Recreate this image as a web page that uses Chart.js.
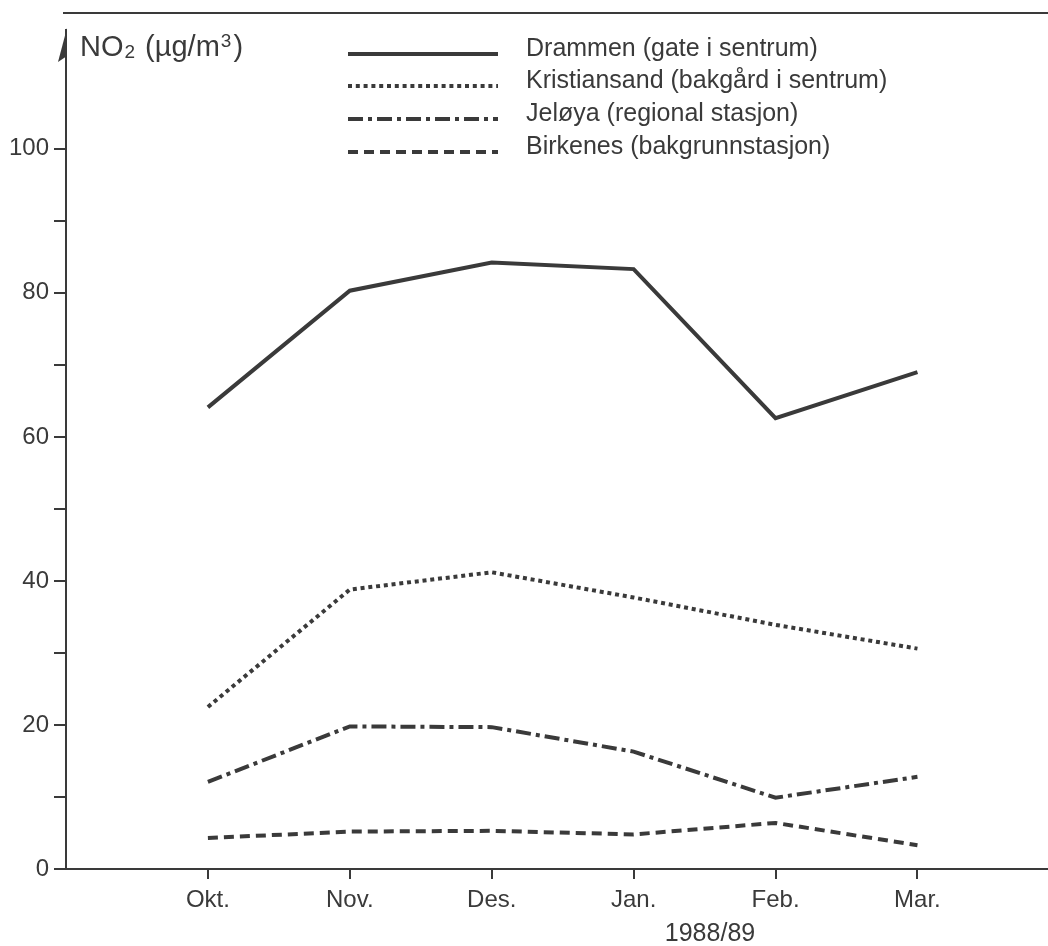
<!DOCTYPE html>
<html>
<head>
<meta charset="utf-8">
<script src="https://cdn.jsdelivr.net/npm/chart.js@4.4.0/dist/chart.umd.min.js"></script>
<style>
  html, body { margin: 0; padding: 0; background: #fff; }
  #wrap { width: 1048px; height: 946px; }
</style>
</head>
<body>
<div id="wrap"><canvas id="chart" width="1048" height="946"></canvas></div>
<script>
// months of the 1988/89 winter
const months = ["Okt.", "Nov.", "Des.", "Jan.", "Feb.", "Mar."];

// NO2 (µg/m3)
const drammen      = [64.1, 80.3, 84.2, 83.3, 62.6, 69.0];
const kristiansand = [22.5, 38.8, 41.2, 37.7, 33.9, 30.6];
const jeloya       = [12.1, 19.8, 19.7, 16.3, 9.9, 12.8];
const birkenes     = [4.3, 5.2, 5.3, 4.8, 6.4, 3.3];

const seriesNames = [
  "Drammen (gate i sentrum)",
  "Kristiansand (bakgård i sentrum)",
  "Jeløya (regional stasjon)",
  "Birkenes (bakgrunnstasjon)"
];

const yTicks = [0, 10, 20, 30, 40, 50, 60, 70, 80, 90, 100];

const ink = "#3a3a3a";
const fontFamily = "'Liberation Sans', Arial, Helvetica, sans-serif";

function line(label, values, dash, width) {
  return {
    label: label,
    data: values.map((v, i) => ({ x: i + 1, y: v })),
    borderColor: ink,
    borderWidth: width,
    borderDash: dash,
    borderCapStyle: "butt",
    borderJoinStyle: "miter",
    pointRadius: 0,
    tension: 0,
    fill: false
  };
}

// axis arrow, top rule, y title, legend and x title
const decor = {
  id: "decor",
  afterDraw(chart) {
    const c = chart.ctx;
    const area = chart.chartArea;
    c.save();
    c.strokeStyle = ink;
    c.fillStyle = ink;

    // rule across the top
    c.lineWidth = 2;
    c.beginPath();
    c.moveTo(63, 13);
    c.lineTo(1048, 13);
    c.stroke();

    // half arrow head on the y axis
    c.beginPath();
    c.moveTo(area.left + 1, area.top - 2);
    c.lineTo(area.left - 8, area.top + 32);
    c.lineTo(area.left + 1, area.top + 26);
    c.closePath();
    c.fill();

    // y title NO2 (µg/m3)
    c.textBaseline = "alphabetic";
    c.textAlign = "left";
    let x = 80;
    const base = 56;
    c.font = "29px " + fontFamily;
    c.fillText("NO", x, base);
    x += c.measureText("NO").width;
    c.font = "19px " + fontFamily;
    c.fillText("2", x + 1, base + 2);
    x += c.measureText("2").width + 3;
    c.font = "29px " + fontFamily;
    c.fillText(" (µg/m", x, base);
    x += c.measureText(" (µg/m").width;
    c.font = "19px " + fontFamily;
    c.fillText("3", x + 1, base - 9);
    x += c.measureText("3").width + 3;
    c.font = "29px " + fontFamily;
    c.fillText(")", x, base);

    // legend
    const rows = [49, 81, 114, 147];
    chart.data.datasets.forEach((ds, i) => {
      const y = rows[i];
      c.lineWidth = ds.borderWidth;
      c.setLineDash(ds.borderDash || []);
      c.lineCap = "butt";
      c.beginPath();
      c.moveTo(348, y + 5);
      c.lineTo(498, y + 5);
      c.stroke();
      c.setLineDash([]);
      c.font = "25px " + fontFamily;
      c.textBaseline = "middle";
      c.fillText(ds.label, 526, y);
    });

    // x title
    c.font = "25px " + fontFamily;
    c.textAlign = "center";
    c.textBaseline = "middle";
    c.fillText("1988/89", 710, 934);
    c.restore();
  }
};

const ctx = document.getElementById("chart").getContext("2d");

const chart = new Chart(ctx, {
  type: "line",
  data: {
    datasets: [
      line(seriesNames[0], drammen, [], 4),
      line(seriesNames[1], kristiansand, [4, 3.8], 4),
      line(seriesNames[2], jeloya, [15, 5, 4, 5], 4),
      line(seriesNames[3], birkenes, [10, 6], 4)
    ]
  },
  options: {
    responsive: false,
    animation: false,
    layout: { padding: { top: 30, right: 0, left: 0, bottom: 0 } },
    plugins: {
      legend: { display: false },
      tooltip: { enabled: false }
    },
    scales: {
      x: {
        type: "linear",
        min: 0,
        max: 6.92,
        afterBuildTicks: s => { s.ticks = months.map((m, i) => ({ value: i + 1 })); },
        afterFit: s => { s.height = 77; },
        ticks: {
          callback: v => months[v - 1] || "",
          color: ink,
          font: { family: fontFamily, size: 24 },
          padding: 7,
          maxRotation: 0,
          autoSkip: false
        },
        grid: { drawOnChartArea: false, drawTicks: true, tickLength: 10, color: ink, lineWidth: 2 },
        border: { display: true, color: ink, width: 2 }
      },
      y: {
        min: 0,
        max: 116.5,
        afterBuildTicks: s => { s.ticks = yTicks.map(v => ({ value: v })); },
        afterFit: s => { s.width = 66; },
        ticks: {
          callback: v => (v % 20 === 0 ? String(v) : ""),
          color: ink,
          font: { family: fontFamily, size: 24 },
          padding: 5
        },
        grid: { drawOnChartArea: false, drawTicks: true, tickLength: 12, color: ink, lineWidth: 2 },
        border: { display: true, color: ink, width: 2 }
      }
    }
  },
  plugins: [decor]
});
</script>
</body>
</html>
